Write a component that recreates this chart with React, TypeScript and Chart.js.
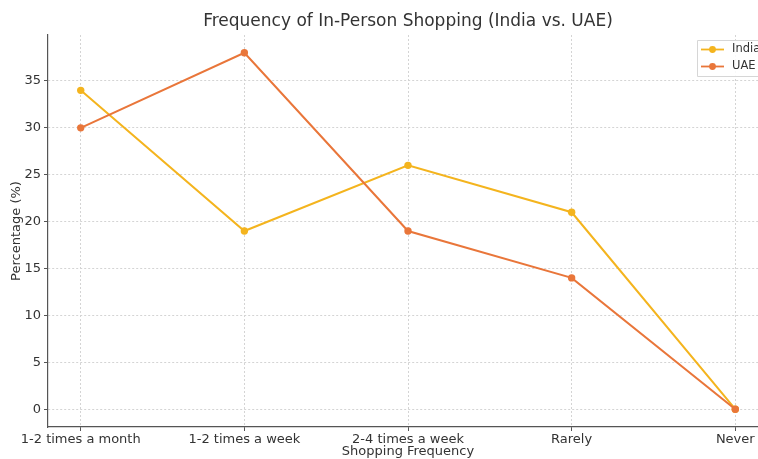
import React, { useEffect, useRef } from "react";
import { Chart, registerables } from "chart.js";

Chart.register(...registerables);

const categories = ["1-2 times a month", "1-2 times a week", "2-4 times a week", "Rarely", "Never"];
const indiaValues = [34, 19, 26, 21, 0];
const uaeValues = [30, 38, 19, 14, 0];
const yTicks = [0, 5, 10, 15, 20, 25, 30, 35];
const seriesNames = ["India", "UAE"];
const seriesColors = ["#F4B41E", "#E9763A"];

const FONT = "'DejaVu Sans', sans-serif";

const boxLegend = {
  id: "boxLegend",
  afterDraw(chart: any) {
    const ctx = chart.ctx;
    const x0 = 697;
    const y0 = 40;
    ctx.save();
    ctx.fillStyle = "rgba(255,255,255,0.85)";
    ctx.strokeStyle = "#d6d6d6";
    ctx.lineWidth = 1;
    ctx.beginPath();
    ctx.rect(x0 + 0.5, y0 + 0.5, 80, 36);
    ctx.fill();
    ctx.stroke();
    ctx.font = `11.5px ${FONT}`;
    ctx.textBaseline = "middle";
    chart.data.datasets.forEach((ds: any, i: number) => {
      const y = y0 + 9.5 + i * 17;
      ctx.strokeStyle = ds.borderColor;
      ctx.lineWidth = 1.8;
      ctx.beginPath();
      ctx.moveTo(701, y);
      ctx.lineTo(724, y);
      ctx.stroke();
      ctx.fillStyle = ds.backgroundColor;
      ctx.beginPath();
      ctx.arc(712.5, y, 3.4, 0, Math.PI * 2);
      ctx.fill();
      ctx.fillStyle = "#333";
      ctx.fillText(ds.label, 732, y);
    });
    ctx.restore();
  },
};

export default function App() {
  const ref = useRef<HTMLCanvasElement>(null);
  useEffect(() => {
    const canvas = ref.current!;
    const mk = (vals: number[]) => vals.map((v, i) => ({ x: i, y: v }));
    const gridOpts = {
      color: "#d4d4d4",
      tickBorderDash: [],
      tickColor: "#555",
      tickLength: 4,
      lineWidth: 1,
    };
    const chart = new Chart(canvas, {
      type: "line",
      data: {
        datasets: [indiaValues, uaeValues].map((vals, i) => ({
          label: seriesNames[i],
          data: mk(vals),
          order: 1 - i,
          borderColor: seriesColors[i],
          backgroundColor: seriesColors[i],
          borderWidth: 2,
          pointRadius: 3.7,
          pointBorderWidth: 0,
          pointHoverRadius: 3.7,
          tension: 0,
        })),
      },
      options: {
        animation: false,
        responsive: false,
        devicePixelRatio: 1,
        layout: { padding: { left: 0, right: 32, top: 0, bottom: 0 } },
        plugins: {
          legend: { display: false },
          tooltip: { enabled: false },
          title: {
            display: true,
            text: "Frequency of In-Person Shopping (India vs. UAE)",
            fullSize: false,
            color: "#333",
            font: { family: FONT, size: 17, weight: "normal" },
            padding: { top: 11, bottom: 3.6 },
          },
        },
        scales: {
          x: {
            type: "linear",
            min: -0.2,
            max: 4.2,
            afterBuildTicks: (s: any) => {
              s.ticks = categories.map((_, i) => ({ value: i }));
            },
            afterFit: (s: any) => {
              s.height = 32;
            },
            ticks: {
              callback: (v: any) => categories[v] ?? "",
              color: "#333",
              font: { family: FONT, size: 13 },
              padding: 1,
              maxRotation: 0,
              autoSkip: false,
            },
            grid: gridOpts,
            border: { display: true, color: "#555", width: 1.2, dash: [2, 2] },
            title: {
              display: true,
              text: "Shopping Frequency",
              color: "#333",
              font: { family: FONT, size: 13 },
              padding: { top: 0, bottom: 0 },
            },
          },
          y: {
            type: "linear",
            min: -1.9,
            max: 39.9,
            afterBuildTicks: (s: any) => {
              s.ticks = yTicks.map((v) => ({ value: v }));
            },
            afterFit: (s: any) => {
              s.width = 48;
            },
            ticks: {
              color: "#333",
              font: { family: FONT, size: 13 },
              padding: 3,
            },
            grid: gridOpts,
            border: { display: true, color: "#555", width: 1.2, dash: [2, 2] },
            title: {
              display: true,
              text: "Percentage (%)",
              color: "#333",
              font: { family: FONT, size: 13 },
              padding: { top: 9, bottom: 0 },
            },
          },
        },
      },
      plugins: [boxLegend],
    } as any);
    return () => chart.destroy();
  }, []);
  return (
    <div style={{ position: "fixed", left: 0, top: 0, width: 758, height: 459, overflow: "hidden", background: "#fff" }}>
      <canvas ref={ref} width={800} height={459} style={{ display: "block" }} />
    </div>
  );
}
